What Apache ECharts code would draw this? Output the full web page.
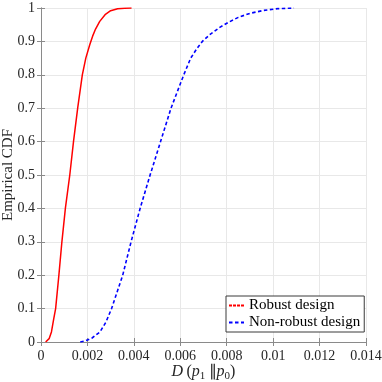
<!DOCTYPE html>
<html>
<head>
<meta charset="utf-8">
<script src="https://cdn.jsdelivr.net/npm/echarts@6/dist/echarts.min.js"></script>
<style>
  html, body { margin: 0; padding: 0; background: #fff; }
  #chart { width: 382px; height: 382px; }
</style>
</head>
<body>
<div id="chart"></div>
<script>
// empirical CDF samples: [D, F(D)]
var robustPts = [
  [0.00020, 0], [0.00025, 0.002], [0.00035, 0.01], [0.00045, 0.03], [0.00055, 0.07],
  [0.00063, 0.1], [0.00077, 0.2], [0.00090, 0.3], [0.00105, 0.4], [0.00124, 0.5],
  [0.00140, 0.6], [0.00158, 0.7], [0.00178, 0.8], [0.00193, 0.85], [0.00210, 0.89],
  [0.00222, 0.915], [0.00235, 0.937], [0.00253, 0.96], [0.00276, 0.98], [0.00300, 0.992],
  [0.00330, 0.998], [0.00360, 0.9995], [0.00390, 1]
];
var nonRobustPts = [
  [0.00169, 0], [0.00190, 0.003], [0.00200, 0.006], [0.00220, 0.012], [0.00254, 0.03],
  [0.00280, 0.06], [0.00304, 0.1], [0.00328, 0.15], [0.00352, 0.2], [0.00370, 0.25],
  [0.00388, 0.3], [0.00427, 0.4], [0.00470, 0.5], [0.00515, 0.6], [0.00560, 0.7],
  [0.00615, 0.8], [0.00645, 0.85], [0.00670, 0.877], [0.00695, 0.9], [0.00730, 0.922],
  [0.00770, 0.942], [0.00810, 0.958], [0.00850, 0.972], [0.00900, 0.984],
  [0.00960, 0.993], [0.01020, 0.998], [0.01090, 1]
];
var seriesNames = ['Robust design', 'Non-robust design'];
var xTicks = { min: 0, max: 0.014, step: 0.002 };
var yTicks = { min: 0, max: 1, step: 0.1 };

var chart = echarts.init(document.getElementById('chart'));
var serif = 'Liberation Serif';
var axisGray = '#8a8a8a';
var txt = '#262626';

// box axes (top / right) only draw line + inner ticks
function boxAxis(pos, t) {
  return {
    type: 'value', position: pos, min: t.min, max: t.max, interval: t.step,
    axisLine: { show: true, lineStyle: { color: axisGray, width: 1 } },
    axisTick: { show: true, inside: true, length: 4, lineStyle: { color: axisGray } },
    axisLabel: { show: false },
    splitLine: { show: false }
  };
}

var option = {
  animation: false,
  grid: { left: 41, right: 16, top: 8, bottom: 40, containLabel: false, outerBoundsMode: 'none' },
  legend: {
    orient: 'vertical',
    left: 226, top: 296,
    padding: [2, 4, 2, 2],
    itemGap: 2,
    itemWidth: 15, itemHeight: 10,
    borderColor: '#3a3a3a', borderWidth: 1,
    backgroundColor: '#fff',
    // hide the symbol drawn over the line sample
    itemStyle: { color: 'transparent', borderWidth: 0 },
    textStyle: { fontFamily: serif, fontSize: 15, color: '#000' },
    data: [
      { name: seriesNames[0], lineStyle: { type: [3, 1] } },
      { name: seriesNames[1] }
    ]
  },
  xAxis: [{
    type: 'value', min: xTicks.min, max: xTicks.max, interval: xTicks.step,
    name: '{i|D} {n|(}{i|p}{s|1} {n|\u2225}{i|p}{s|0}{n|)}',
    nameLocation: 'middle', nameGap: 20, nameMoveOverlap: false,
    nameTextStyle: {
      rich: {
        i: { fontFamily: serif, fontStyle: 'italic', fontSize: 16, color: txt, lineHeight: 20 },
        n: { fontFamily: serif, fontSize: 16, color: txt, lineHeight: 20 },
        s: { fontFamily: serif, fontSize: 11, color: txt, lineHeight: 10, verticalAlign: 'bottom' }
      }
    },
    axisLine: { show: true, lineStyle: { color: axisGray, width: 1 } },
    axisTick: { show: true, inside: true, length: 4, lineStyle: { color: axisGray } },
    axisLabel: { fontFamily: serif, fontSize: 14, color: txt, margin: 7 },
    splitLine: { show: true, lineStyle: { color: '#e8e8e8', width: 1 } }
  }, boxAxis('top', xTicks)],
  yAxis: [{
    type: 'value', min: yTicks.min, max: yTicks.max, interval: yTicks.step,
    name: 'Empirical CDF',
    nameLocation: 'middle', nameGap: 25, nameMoveOverlap: false,
    nameTextStyle: { fontFamily: serif, fontSize: 15, color: txt },
    axisLine: { show: true, lineStyle: { color: axisGray, width: 1 } },
    axisTick: { show: true, inside: true, length: 4, lineStyle: { color: axisGray } },
    axisLabel: { fontFamily: serif, fontSize: 14, color: txt, margin: 6 },
    splitLine: { show: true, lineStyle: { color: '#e8e8e8', width: 1 } }
  }, boxAxis('right', yTicks)],
  series: [
    {
      name: seriesNames[0], type: 'line', data: robustPts,
      symbol: 'none', smooth: false,
      lineStyle: { color: '#ff0000', width: 1.5, type: 'solid' },
      itemStyle: { color: '#ff0000' }
    },
    {
      name: seriesNames[1], type: 'line', data: nonRobustPts,
      symbol: 'none', smooth: false,
      lineStyle: { color: '#0000ff', width: 1.6, type: [3.5, 2.5] },
      itemStyle: { color: '#0000ff' }
    }
  ]
};
chart.setOption(option);
</script>
</body>
</html>
